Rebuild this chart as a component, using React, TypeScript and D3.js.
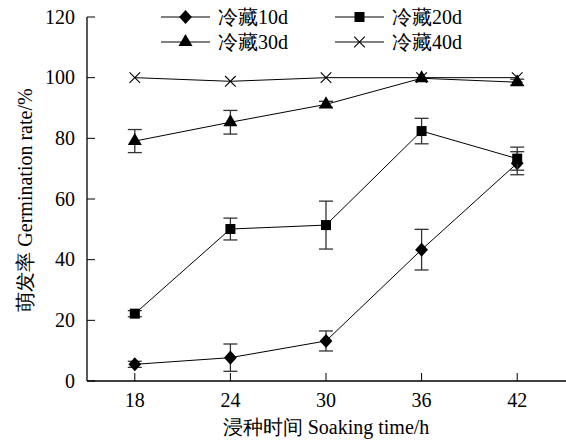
import React from "react";
import * as d3 from "d3";

const width = 566;
const height = 442;
const margin = { top: 17, right: 1, bottom: 59, left: 87 };

// soaking time (h)
const hours = [18, 24, 30, 36, 42];
const seriesNames = ["冷藏10d", "冷藏20d", "冷藏30d", "冷藏40d"];
const rate10d = [5.5, 7.7, 13.2, 43.3, 71.8];
const err10d = [1.0, 4.5, 3.3, 6.7, 3.8];
const rate20d = [22.2, 50.1, 51.4, 82.4, 73.3];
const err20d = [1.0, 3.6, 7.9, 4.2, 3.8];
const rate30d = [79.1, 85.3, 91.2, 99.8, 98.5];
const err30d = [3.8, 3.9, 1.0, 0.5, 1.0];
const rate40d = [100, 98.8, 100, 100, 100];
const err40d = [0, 0.6, 0, 0, 0];
const yTicks = [0, 20, 40, 60, 80, 100, 120];

const font = "Liberation Serif";
const fs = 20;

const x = d3.scaleLinear().domain([15, 45]).range([margin.left, width - margin.right]);
const y = d3.scaleLinear().domain([0, 120]).range([height - margin.bottom - 2, margin.top]);

// diamond a bit wider than d3's own
const diamond = { draw(ctx: any, size: number) { const r = Math.sqrt(size) / 1.4; ctx.moveTo(0, -r * 1.1); ctx.lineTo(r, 0); ctx.lineTo(0, r * 1.1); ctx.lineTo(-r, 0); ctx.closePath(); } };
const shapes: any[] = [diamond, d3.symbolSquare, d3.symbolTriangle, d3.symbolTimes];
const sizes = [80, 100, 85, 75];

function Marker({ i, cx, cy }: { i: number; cx: number; cy: number }) {
  const d = d3.symbol().type(shapes[i]).size(sizes[i])() as string;
  const isStroke = i === 3;
  return (
    <path
      d={d}
      transform={`translate(${cx},${cy})`}
      fill={isStroke ? "none" : "#000"}
      stroke="#000"
      strokeWidth={isStroke ? 1.1 : 0}
    />
  );
}

export default function App() {
  const series = [
    { vals: rate10d, errs: err10d },
    { vals: rate20d, errs: err20d },
    { vals: rate30d, errs: err30d },
    { vals: rate40d, errs: err40d },
  ];
  const line = d3.line<number>().x((_, j) => x(hours[j])).y((v) => y(v));
  const x0 = x.range()[0];
  const y0 = y(0);

  const legendPos = [
    { lx: 161, ly: 17 },
    { lx: 335, ly: 17 },
    { lx: 161, ly: 42 },
    { lx: 335, ly: 42 },
  ];

  return (
    <svg width={width} height={height} style={{ position: "absolute", left: 0, top: 0, background: "#fff", fontFamily: font }}>
      {/* axes */}
      <line x1={x0} x2={x0} y1={margin.top} y2={y0} stroke="#000" strokeWidth={1.3} />
      <line x1={x0} x2={width} y1={y0} y2={y0} stroke="#000" strokeWidth={1.3} />
      {yTicks.map((t) => (
        <g key={t}>
          <line x1={x0} x2={x0 + 8} y1={y(t)} y2={y(t)} stroke="#000" strokeWidth={1} />
          <text x={x0 - 12} y={y(t)} dy="0.34em" textAnchor="end" fontSize={fs}>
            {t}
          </text>
        </g>
      ))}
      {hours.map((h) => (
        <g key={h}>
          <line x1={x(h)} x2={x(h)} y1={y0} y2={y0 - 8} stroke="#000" strokeWidth={1} />
          <text x={x(h)} y={407} textAnchor="middle" fontSize={fs}>
            {h}
          </text>
        </g>
      ))}
      <text x={326} y={434} textAnchor="middle" fontSize={fs}>
        浸种时间 Soaking time/h
      </text>
      <text transform="translate(32,200) rotate(-90)" textAnchor="middle" fontSize={fs}>
        萌发率 Germination rate/%
      </text>

      {/* series */}
      {series.map((s, i) => (
        <g key={i}>
          <path d={line(s.vals) as string} fill="none" stroke="#000" strokeWidth={1} />
          {s.vals.map((v, j) =>
            s.errs[j] > 0.8 ? (
              <g key={j} stroke="#333" strokeWidth={1.3}>
                <line x1={x(hours[j])} x2={x(hours[j])} y1={y(v + s.errs[j])} y2={y(v - s.errs[j])} />
                <line x1={x(hours[j]) - 7} x2={x(hours[j]) + 7} y1={y(v + s.errs[j])} y2={y(v + s.errs[j])} />
                <line x1={x(hours[j]) - 7} x2={x(hours[j]) + 7} y1={y(v - s.errs[j])} y2={y(v - s.errs[j])} />
              </g>
            ) : null
          )}
          {s.vals.map((v, j) => (
            <Marker key={j} i={i} cx={x(hours[j])} cy={y(v)} />
          ))}
        </g>
      ))}

      {/* legend */}
      {seriesNames.map((name, i) => {
        const { lx, ly } = legendPos[i];
        return (
          <g key={name}>
            <line x1={lx} x2={lx + 49} y1={ly} y2={ly} stroke="#000" strokeWidth={1} />
            <Marker i={i} cx={lx + 24.5} cy={ly} />
            <text x={lx + 57} y={ly} dy="0.34em" fontSize={fs}>
              {name}
            </text>
          </g>
        );
      })}
    </svg>
  );
}
